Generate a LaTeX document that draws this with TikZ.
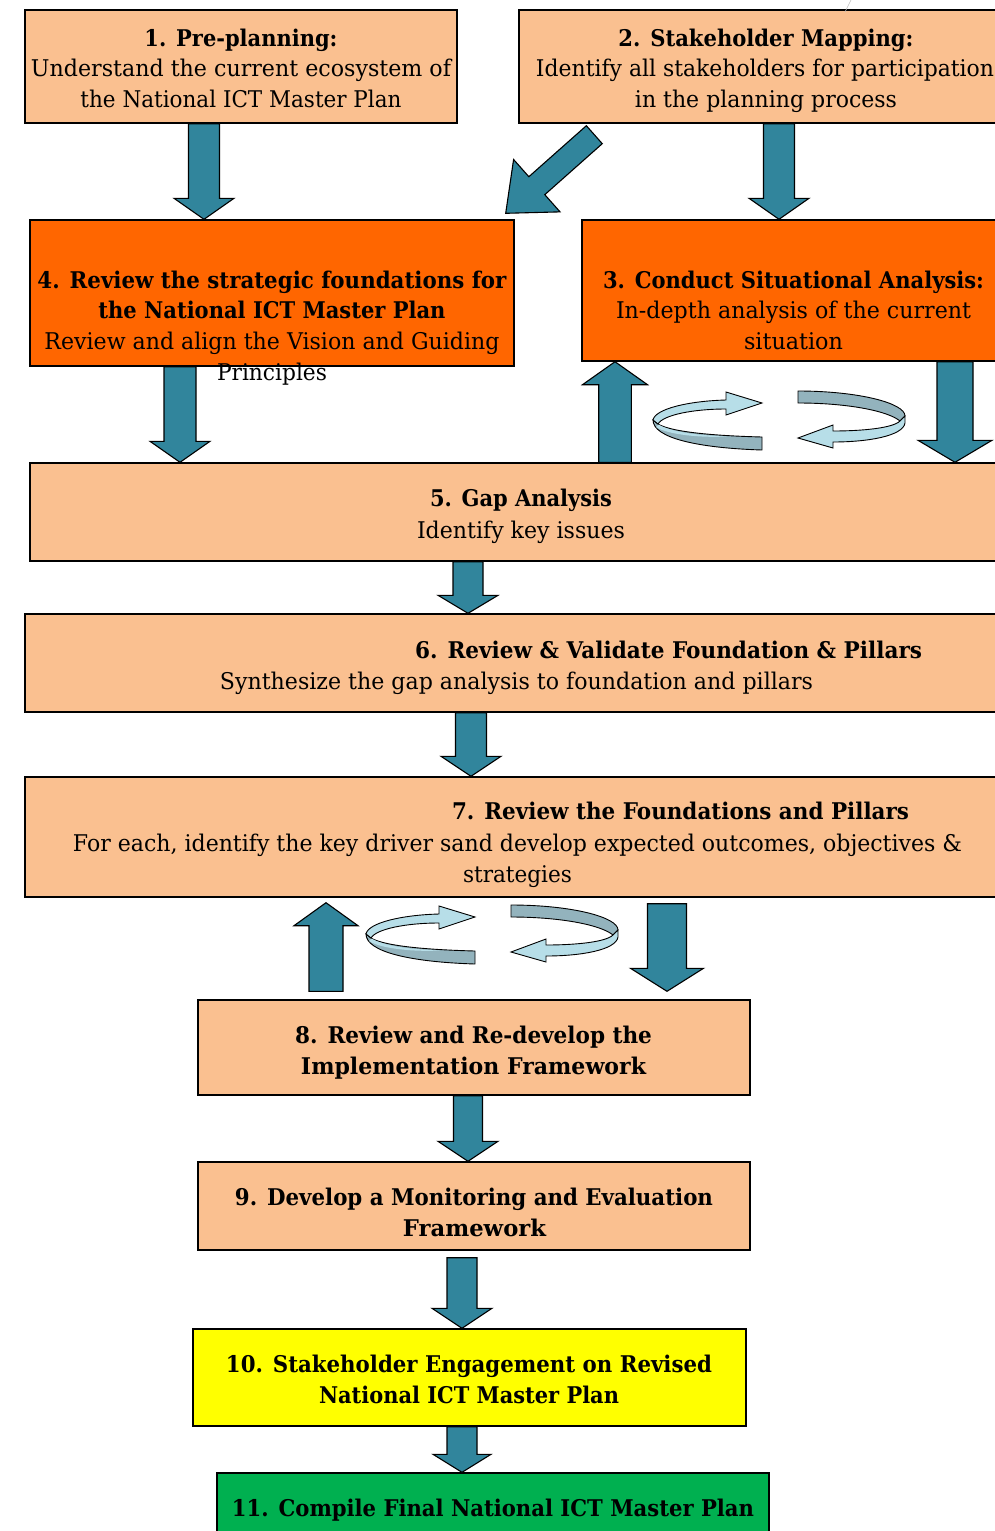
\documentclass[tikz,border=0pt]{standalone}
\usepackage{fontspec}
\setmainfont{DejaVu Serif}
\usepackage{graphicx}
\usetikzlibrary{calc}

\definecolor{peach}{HTML}{FAC090}
\definecolor{orangebox}{HTML}{FF6600}
\definecolor{yellowbox}{HTML}{FFFF00}
\definecolor{greenbox}{HTML}{00B050}
\definecolor{arrowteal}{HTML}{31859C}
\definecolor{ribbonlight}{HTML}{B7DEE8}
\definecolor{ribbondark}{HTML}{93B3BD}

\newcommand{\fw}[2]{\resizebox{#1pt}{\height}{#2}}

% block arrow from #2 to #3, shaft half width #4, head half width #5, head length #6
\newcommand{\flowarrow}[6][]{%
  \coordinate (facenter) at ($(#3)!#6pt!(#2)$);
  \draw[blockarrow,#1] ($(#2)!#4pt!90:(#3)$) -- ($(facenter)!#4pt!90:(#3)$)
    -- ($(facenter)!#5pt!90:(#3)$) -- (#3) -- ($(facenter)!#5pt!-90:(#3)$)
    -- ($(facenter)!#4pt!-90:(#3)$) -- ($(#2)!#4pt!-90:(#3)$) -- cycle;
}

\tikzset{
  box/.style={draw=black, line width=1.4pt, inner sep=0pt, rectangle},
  blockarrow/.style={draw=black, line width=1.1pt, fill=arrowteal, line join=miter},
  txt/.style={inner sep=0pt, anchor=base, font=\fontsize{23pt}{31pt}\selectfont},
  btxt/.style={txt, font=\fontsize{23pt}{31pt}\selectfont\bfseries},
  ribbonline/.style={draw=black, line width=0.9pt, line join=miter},
  ribbons/.pic={
    % left ribbon: lower (front) band
    \path[ribbonline, fill=ribbondark] (0,29) .. controls (0,47) and (45,57) .. (109,59)
      -- (109,46) .. controls (70,45) and (20,42) .. (5,33) -- cycle;
    % left ribbon: light inner strip of the lower band
    \path[fill=ribbonlight] (5.6,33.6) .. controls (20,42) and (50,44.6) .. (75,45.4)
      .. controls (50,47) and (15,44) .. (3,36) -- cycle;
    % left ribbon: upper band with head
    \path[ribbonline, fill=ribbonlight] (0,29) .. controls (2,18) and (35,10) .. (73,9)
      -- (73,1) -- (109,12) -- (73,24) -- (73,18) .. controls (40,18) and (10,24) .. (5,33) -- cycle;
    % right ribbon: upper (back) band
    \path[ribbonline, fill=ribbondark] (145,0) .. controls (205,0) and (252,12) .. (252,25)
      -- (247,30) .. controls (235,20) and (195,12) .. (145,12) -- cycle;
    % right ribbon: lower band with head
    \path[ribbonline, fill=ribbonlight] (252,25) -- (252,32) .. controls (250,45) and (215,51) .. (180,51)
      -- (180,57) -- (145,47) -- (180,34) -- (180,40) .. controls (210,40) and (240,37) .. (247,30) -- cycle;
  }
}

\begin{document}
\begin{tikzpicture}[x=1pt, y=-1pt]
\useasboundingbox (0,0) rectangle (995,1531);

% boxes
\node[box, fill=peach, minimum width=432pt, minimum height=113pt] (b1) at (241,66.5) {};
\node[box, fill=peach, minimum width=494pt, minimum height=113pt] (b2) at (766,66.5) {};
\node[box, fill=orangebox, minimum width=484pt, minimum height=146pt] (b4) at (272,293) {};
\node[box, fill=orangebox, minimum width=423pt, minimum height=141pt] (b3) at (793.5,290.5) {};
\node[box, fill=peach, minimum width=982pt, minimum height=98pt] (b5) at (521,512) {};
\node[box, fill=peach, minimum width=985pt, minimum height=98pt] (b6) at (517.5,663) {};
\node[box, fill=peach, minimum width=985pt, minimum height=120pt] (b7) at (517.5,837) {};
\node[box, fill=peach, minimum width=552pt, minimum height=95pt] (b8) at (474,1047.5) {};
\node[box, fill=peach, minimum width=552pt, minimum height=88pt] (b9) at (474,1206) {};
\node[box, fill=yellowbox, minimum width=553pt, minimum height=97pt] (b10) at (469.5,1377.5) {};
\node[box, fill=greenbox, minimum width=552pt, minimum height=72pt] (b11) at (493,1509) {};

% faint stray line at top
\draw[black!25, line width=0.6pt] (851,0) -- (845,12);

% arrow end points
\coordinate (a1s) at ([xshift=-37pt]b1.south);
\coordinate (a1e) at (a1s |- b4.north);
\coordinate (a2s) at ([xshift=13pt]b2.south);
\coordinate (a2e) at (a2s |- b3.north);
\coordinate (a3s) at ([xshift=76pt,yshift=-11pt]b2.south west);
\coordinate (a3e) at ([xshift=-9pt,yshift=6pt]b4.north east);
\coordinate (a4s) at ([xshift=-92pt]b4.south);
\coordinate (a4e) at (a4s |- b5.north);
\coordinate (a5s) at ([xshift=94pt]b5.north);
\coordinate (a5e) at (a5s |- b3.south);
\coordinate (a6s) at ([xshift=161.5pt]b3.south);
\coordinate (a6e) at (a6s |- b5.north);
\coordinate (a7s) at ([xshift=-53pt]b5.south);
\coordinate (a7e) at (a7s |- b6.north);
\coordinate (a8s) at ([xshift=-46.5pt]b6.south);
\coordinate (a8e) at (a8s |- b7.north);
\coordinate (a9s) at ([xshift=-148pt,yshift=8pt]b8.north);
\coordinate (a9e) at ($(a9s |- b7.south)+(0,5)$);
\coordinate (a10s) at ([xshift=149.5pt,yshift=-6pt]b7.south);
\coordinate (a10e) at ($(a10s |- b8.north)+(0,-8)$);
\coordinate (a11s) at ([xshift=-6pt]b8.south);
\coordinate (a11e) at (a11s |- b9.north);
\coordinate (a12s) at ([xshift=-12pt,yshift=-7pt]b9.south);
\coordinate (a12e) at (a12s |- b10.north);
\coordinate (a13s) at ([xshift=-7.5pt]b10.south);
\coordinate (a13e) at (a13s |- b11.north);

% block arrows
\flowarrow{a1s}{a1e}{15.5}{30}{21}
\flowarrow{a2s}{a2e}{15.5}{30}{21}
\flowarrow{a3s}{a3e}{12}{35}{41.6}
\flowarrow{a4s}{a4e}{16}{30}{21}
\flowarrow{a5s}{a5e}{16.3}{32.5}{23}
\flowarrow{a6s}{a6e}{18}{37}{22}
\flowarrow{a7s}{a7e}{15}{30}{18}
\flowarrow{a8s}{a8e}{15.5}{30}{20}
\flowarrow{a9s}{a9e}{17}{32}{23}
\flowarrow{a10s}{a10e}{19.5}{36.5}{23}
\flowarrow{a11s}{a11e}{14.5}{30}{20}
\flowarrow{a12s}{a12e}{15}{30}{20}
\flowarrow{a13s}{a13e}{15}{29}{18}

% circular ribbon arrows
\pic at (653,391) {ribbons};
\pic at (366,905) {ribbons};

% texts
\node[btxt] (t1a) at (241,46) {\fw{193}{1. Pre-planning:}};
\node[txt] (t1b) at (241,76) {\fw{420}{Understand the current ecosystem of}};
\node[txt] (t1c) at (241,107) {\fw{321}{the National ICT Master Plan}};

\node[btxt] (t2a) at (766,46) {\fw{295}{2. Stakeholder Mapping:}};
\node[txt] (t2b) at (765,76) {\fw{458}{Identify all stakeholders for participation}};
\node[txt] (t2c) at (766,107) {\fw{262}{in the planning process}};

\node[btxt] (t4a) at (272,288) {\fw{469}{4. Review the strategic foundations for}};
\node[btxt] (t4b) at (272,318) {\fw{347}{the National ICT Master Plan}};
\node[txt] (t4c) at (272,349) {\fw{455}{Review and align the Vision and Guiding}};
\node[txt] (t4d) at (272,380) {\fw{110}{Principles}};

\node[btxt] (t3a) at (793.5,288) {\fw{381}{3. Conduct Situational Analysis:}};
\node[txt] (t3b) at (793.5,318) {\fw{355}{In-depth analysis of the current}};
\node[txt] (t3c) at (793.5,349) {\fw{99}{situation}};

\node[btxt] (t5a) at (521,506) {\fw{182}{5. Gap Analysis}};
\node[txt] (t5b) at (521,538) {\fw{208}{Identify key issues}};

\node[btxt] (t6a) at (668.5,658) {\fw{507}{6. Review \& Validate Foundation \& Pillars}};
\node[txt] (t6b) at (516.5,689) {\fw{593}{Synthesize the gap analysis to foundation and pillars}};

\node[btxt] (t7a) at (680.5,819) {\fw{457}{7. Review the Foundations and Pillars}};
\node[txt] (t7b) at (517.5,851) {\fw{889}{For each, identify the key driver sand develop expected outcomes, objectives \&}};
\node[txt] (t7c) at (517.5,882) {\fw{109}{strategies}};

\node[btxt] (t8a) at (473.5,1043) {\fw{357}{8. Review and Re-develop the}};
\node[btxt] (t8b) at (473.5,1074) {\fw{345}{Implementation Framework}};

\node[btxt] (t9a) at (474,1205) {\fw{478}{9. Develop a Monitoring and Evaluation}};
\node[btxt] (t9b) at (474.5,1236) {\fw{143}{Framework}};

\node[btxt] (t10a) at (469,1372) {\fw{486}{10. Stakeholder Engagement on Revised}};
\node[btxt] (t10b) at (469,1403) {\fw{300}{National ICT Master Plan}};

\node[btxt] (t11) at (493,1516) {\fw{522}{11. Compile Final National ICT Master Plan}};
\end{tikzpicture}
\end{document}
